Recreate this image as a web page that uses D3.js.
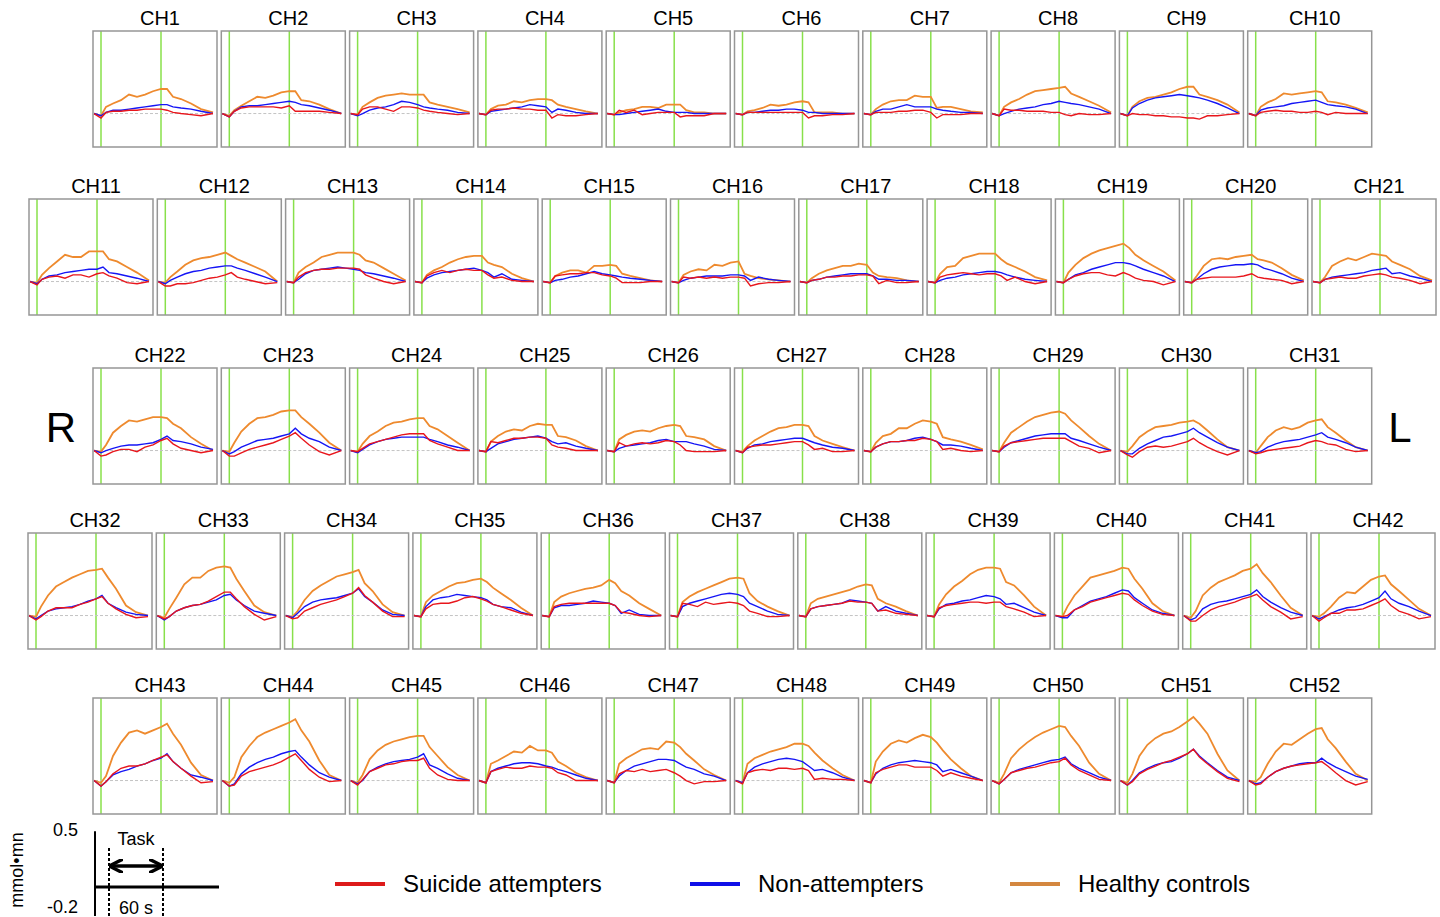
<!DOCTYPE html>
<html>
<head>
<meta charset="utf-8">
<script src="https://cdn.jsdelivr.net/npm/d3@7"></script>
<style>
  body { margin: 0; background: #fff; }
  svg { display: block; font-family: "Liberation Sans", Arial, sans-serif; }
</style>
</head>
<body>
<svg id="chart" width="1440" height="917"></svg>
<script>
// time (s) of each sample, task runs from 0 to 60 s
const timePoints = [-7, 0, 5, 12, 20, 28, 36, 44, 52, 60, 66, 72, 80, 90, 100, 112];
const rowSizes = [10, 11, 10, 11, 10];
const seriesNames = ["Suicide attempters", "Non-attempters", "Healthy controls"];

// oxy-Hb change, in 0.01 mmol·mm, one row per channel (CH1..CH52)
const attempters = [
  [0,-4,1,2,2,3,3,4,4,4,3,1,0,-1,-2,0],
  [0,-3,2,5,6,6,6,6,5,7,2,2,2,2,1,0],
  [0,-1,4,6,6,4,2,6,6,5,3,2,1,0,-1,0],
  [0,-1,3,4,4,5,4,4,3,3,-4,-1,-2,-2,-1,0],
  [0,-1,3,1,3,-1,0,1,1,1,-3,-2,-2,-2,0,0],
  [0,-1,1,1,1,1,1,1,1,1,-4,-2,-2,-1,-1,0],
  [0,-1,1,1,1,2,2,3,3,1,-4,-1,-1,-1,0,0],
  [0,-2,4,3,3,2,2,2,1,1,-1,-2,0,-1,-1,0],
  [0,-2,0,-1,-1,-2,-2,-3,-3,-4,-4,-5,-2,-2,-1,0],
  [0,-2,1,2,3,2,2,1,1,2,1,-1,1,0,0,0],
  [0,-3,2,4,5,3,6,6,4,7,8,5,3,-1,-2,0],
  [0,-4,-4,-2,-2,-1,1,3,4,6,8,4,2,0,-2,-1],
  [0,-1,4,8,10,11,11,12,12,12,11,6,3,0,-2,0],
  [0,-1,5,8,10,8,10,11,10,10,6,3,4,1,0,0],
  [0,-1,5,6,7,7,8,8,6,5,3,-1,-1,-1,0,0],
  [0,-1,4,3,4,3,4,3,4,4,3,-4,-2,-1,-1,0],
  [0,-1,1,2,4,4,5,5,6,6,5,-2,1,-1,-1,0],
  [0,-1,4,6,7,8,7,6,7,7,5,1,4,0,-2,0],
  [0,-1,2,5,7,8,8,6,5,8,6,3,1,0,-3,0],
  [0,-1,2,3,4,4,4,4,5,7,4,3,2,1,-2,0],
  [0,-1,2,3,4,3,3,5,6,7,6,4,3,1,-2,0],
  [0,-5,-4,-1,1,1,-1,3,5,9,11,6,2,0,-2,0],
  [0,-5,-5,-2,1,3,5,7,10,13,16,11,5,-1,-4,0],
  [0,-1,2,6,8,10,12,14,15,15,15,9,6,3,0,0],
  [0,-1,8,7,9,11,11,12,12,11,5,3,2,0,0,0],
  [0,-1,7,4,6,7,6,7,9,8,5,0,-1,-1,-1,0],
  [0,-2,3,4,5,5,6,7,8,8,5,1,2,-1,-1,0],
  [0,-1,3,6,8,8,9,9,11,10,8,1,2,0,-1,0],
  [0,-1,4,7,8,9,10,11,11,11,11,8,4,2,-2,0],
  [0,-4,-6,-1,3,4,3,4,6,8,11,7,3,-1,-4,0],
  [0,-3,-2,0,1,2,3,4,7,9,8,6,5,1,-1,0],
  [0,-4,-1,4,7,7,7,10,12,15,17,11,6,1,-2,-1],
  [0,-3,-1,4,7,9,10,13,17,21,21,15,8,1,-4,-1],
  [0,-3,-2,4,7,10,12,14,17,20,25,18,12,4,-1,-1],
  [0,-1,6,10,11,11,13,16,17,15,13,10,8,5,2,0],
  [0,-1,8,10,11,11,11,11,11,11,9,3,2,0,-1,0],
  [0,-1,11,10,8,12,10,11,12,11,9,4,2,-1,-1,0],
  [0,-1,6,8,9,10,11,13,12,12,11,4,5,2,1,0],
  [0,-1,7,9,10,11,12,12,11,12,12,8,6,3,-1,0],
  [0,-1,0,5,8,12,14,16,18,20,19,14,9,4,1,0],
  [0,-5,-5,0,5,8,10,12,15,17,19,14,8,3,-3,-1],
  [0,-5,-2,2,2,5,5,6,9,12,15,9,4,1,-3,-1],
  [0,-5,-1,6,11,13,13,15,18,21,23,17,11,4,-2,-1],
  [0,-5,-4,4,8,10,12,14,17,21,24,18,10,3,-1,0],
  [0,-4,1,8,11,14,15,17,18,18,20,11,5,1,0,0],
  [0,-2,8,10,12,11,11,13,12,12,11,7,5,0,0,0],
  [0,-2,6,9,8,10,8,9,10,7,4,0,-3,-1,-1,0],
  [0,-3,7,9,10,9,11,11,10,11,9,1,2,1,1,0],
  [0,-2,7,10,12,14,14,12,12,12,9,4,7,4,2,0],
  [0,-3,1,7,9,11,12,14,16,17,20,14,9,5,1,0],
  [0,-4,-1,6,10,13,16,18,21,24,28,21,15,8,2,-1],
  [0,-4,-3,3,8,11,13,14,15,16,17,13,7,0,-4,-1]
];

const nonAttempters = [
  [0,-2,1,3,3,4,5,6,7,8,8,6,5,4,2,0],
  [0,-3,2,6,7,7,8,9,10,11,10,8,7,5,3,0],
  [0,-2,0,3,5,6,8,11,10,8,6,5,4,3,1,0],
  [0,-1,2,3,4,5,6,8,7,6,1,4,3,1,0,0],
  [0,-1,-1,0,1,2,3,4,2,1,1,1,0,0,0,0],
  [0,-1,1,1,2,3,3,4,4,3,1,1,0,0,0,0],
  [0,-1,2,4,4,6,8,6,6,6,4,3,2,1,1,0],
  [0,-2,0,2,4,5,6,8,9,11,10,9,8,6,4,0],
  [0,-2,5,9,12,14,15,16,17,16,15,14,12,9,5,0],
  [0,-2,3,5,6,7,9,10,11,12,10,8,7,6,4,0],
  [0,-2,2,5,6,8,9,10,11,11,13,8,7,5,3,0],
  [0,-2,1,4,7,9,10,12,13,14,14,12,10,7,4,0],
  [0,-1,2,7,10,11,12,13,12,11,10,8,7,5,3,0],
  [0,-1,3,6,8,9,10,11,12,10,8,4,7,2,1,0],
  [0,-1,1,2,4,5,7,9,7,6,5,4,3,2,1,0],
  [0,-1,1,3,4,5,5,5,6,6,5,1,4,2,1,0],
  [0,-1,1,2,4,5,6,7,7,7,5,2,2,1,1,0],
  [0,-1,1,3,4,6,7,8,9,9,8,6,4,2,1,0],
  [0,-1,2,6,8,11,13,15,17,17,16,14,11,8,5,0],
  [0,-1,2,7,11,13,14,15,15,16,15,12,10,7,3,0],
  [0,-1,2,4,5,6,7,8,10,11,12,7,8,5,3,0],
  [0,-2,0,2,4,5,5,6,7,10,13,9,8,6,3,1],
  [0,-3,-1,3,6,9,10,11,13,15,20,15,11,8,3,0],
  [0,-2,1,5,8,10,11,12,12,12,12,10,8,5,3,0],
  [0,-1,2,6,8,10,11,12,13,11,8,6,7,4,2,0],
  [0,-1,2,4,5,6,7,9,10,8,8,8,6,4,1,0],
  [0,-2,2,5,6,8,9,10,11,11,9,7,5,3,2,0],
  [0,-1,3,6,8,8,9,11,12,10,8,5,5,4,2,0],
  [0,-1,3,7,9,11,13,14,15,15,15,11,9,6,3,0],
  [0,-3,-3,2,6,9,12,13,15,17,20,16,12,7,3,0],
  [0,-2,-1,3,6,8,9,10,12,14,16,12,10,7,3,0],
  [0,-3,0,4,6,7,8,10,13,15,18,11,7,3,1,0],
  [0,-4,-1,4,7,9,10,12,14,18,19,14,9,4,2,0],
  [0,-2,2,8,12,14,15,16,18,20,24,17,12,5,1,0],
  [0,-1,8,14,16,17,19,18,17,16,14,10,8,7,3,0],
  [0,-1,7,9,9,10,11,13,12,11,9,2,5,1,0,0],
  [0,-1,8,11,13,15,17,19,20,19,17,11,8,4,1,0],
  [0,-1,6,8,9,10,11,14,13,12,11,4,8,4,2,0],
  [0,-1,6,10,11,13,14,16,18,17,15,10,11,7,3,0],
  [0,-2,-2,5,9,13,15,17,20,23,22,16,11,5,2,0],
  [0,-4,-2,6,10,12,13,15,17,19,23,17,12,7,3,0],
  [0,-3,-1,2,5,7,8,10,13,16,22,15,11,8,4,0],
  [0,-5,-1,5,8,10,13,15,18,20,24,17,11,5,3,0],
  [0,-5,-3,6,12,16,19,21,24,26,27,21,14,7,3,0],
  [0,-3,0,8,12,15,17,18,19,21,24,14,11,6,2,0],
  [0,-2,8,11,13,15,16,16,15,13,12,10,8,5,2,0],
  [0,-2,4,9,13,15,17,19,19,18,15,12,10,6,4,0],
  [0,-2,7,12,15,17,19,20,19,17,13,9,10,7,3,0],
  [0,-2,6,11,14,16,17,18,17,16,14,8,10,7,4,0],
  [0,-3,1,7,10,12,14,16,18,19,21,15,11,7,3,0],
  [0,-4,0,7,11,14,16,17,20,24,28,22,16,9,3,0],
  [0,-3,-2,3,8,11,13,15,16,16,20,16,12,8,4,1]
];

const controls = [
  [0,-2,6,9,12,17,15,17,20,22,22,15,13,9,4,1],
  [0,-2,3,7,11,15,14,16,19,20,20,12,11,8,4,0],
  [0,-1,6,10,14,16,17,18,17,17,17,10,8,6,4,1],
  [0,-1,4,7,8,11,10,12,13,13,12,8,6,4,2,0],
  [0,-1,1,3,4,6,6,5,8,8,8,3,1,1,0,0],
  [0,-1,2,3,5,8,7,8,10,11,10,1,1,1,0,0],
  [0,-1,4,8,11,12,12,16,15,15,5,6,6,4,2,1],
  [0,-2,6,10,13,17,20,21,22,23,24,18,15,11,7,1],
  [0,-2,6,11,14,15,17,19,22,24,24,17,15,12,8,1],
  [0,-2,6,10,13,18,17,18,19,20,19,11,10,8,5,1],
  [0,-1,6,12,18,24,22,22,27,27,27,20,18,13,8,1],
  [0,-1,4,9,15,19,21,22,24,26,23,20,17,13,9,0],
  [0,-1,8,13,17,22,24,26,26,26,24,19,17,12,7,1],
  [0,-1,6,10,13,17,20,22,23,23,17,15,13,7,3,0],
  [0,-1,5,8,10,10,8,14,14,15,14,7,5,3,1,0],
  [0,-1,6,9,11,10,15,14,17,18,7,5,3,2,1,0],
  [0,-1,3,7,10,12,14,14,16,15,8,5,4,3,1,0],
  [0,-1,7,13,14,21,23,25,25,25,20,16,13,9,4,1],
  [0,-1,8,15,21,25,28,30,32,34,30,24,19,14,9,1],
  [0,-1,5,14,20,21,20,22,23,24,20,19,17,12,6,1],
  [0,-1,4,14,18,21,19,22,25,24,23,18,15,11,5,1],
  [0,-1,5,16,22,27,26,28,30,30,29,24,20,12,6,0],
  [0,-1,7,17,24,29,30,32,35,36,36,30,24,16,7,0],
  [0,-1,6,13,17,22,25,26,28,29,29,22,19,13,7,0],
  [0,-1,8,13,17,19,18,22,24,23,23,13,12,9,4,0],
  [0,-1,10,14,17,18,17,20,22,23,22,13,12,10,4,0],
  [0,-1,4,9,13,17,20,21,23,23,22,13,9,6,3,0],
  [0,-1,7,13,15,20,20,24,27,26,24,12,10,8,5,1],
  [0,-1,7,16,21,26,30,32,34,35,33,27,21,13,6,0],
  [0,-1,4,12,17,21,22,23,25,26,27,24,18,10,3,0],
  [0,-2,4,12,18,21,19,21,25,27,28,21,16,9,3,0],
  [0,-1,8,18,26,30,34,37,40,41,42,34,24,9,3,0],
  [0,-2,6,16,28,34,34,40,43,44,43,33,22,9,3,0],
  [0,-1,4,14,22,27,31,35,37,39,41,29,22,10,3,0],
  [0,-1,12,18,22,26,29,30,32,33,30,25,20,14,7,0],
  [0,-1,12,17,20,22,24,25,27,32,29,22,18,11,6,0],
  [0,-1,12,17,21,24,27,30,33,34,33,20,13,8,4,0],
  [0,-1,11,15,17,19,21,23,26,28,27,15,11,8,4,0],
  [0,-1,10,19,26,31,37,41,43,43,42,30,27,18,8,0],
  [0,-1,8,18,26,34,36,38,40,43,42,33,24,11,4,0],
  [0,-2,4,18,25,30,33,36,40,42,46,38,30,18,7,0],
  [0,-1,2,8,16,21,20,26,32,35,36,28,22,14,6,0],
  [0,-2,4,22,34,43,45,42,45,48,51,42,32,16,5,0],
  [0,-2,3,21,31,39,43,46,49,52,55,45,35,18,5,0],
  [0,-2,5,19,27,32,35,37,39,40,40,30,22,12,5,0],
  [0,-2,15,18,22,26,25,31,27,27,25,17,13,7,3,0],
  [0,-2,15,20,24,28,29,28,35,34,30,24,18,10,5,0],
  [0,-2,15,20,23,26,28,30,33,33,31,25,18,11,5,0],
  [0,-2,17,26,33,36,34,38,41,39,34,27,19,11,4,0],
  [0,-2,6,20,28,34,39,43,46,49,48,40,31,16,6,0],
  [0,-2,6,22,32,38,42,44,48,53,57,51,42,24,9,0],
  [0,-1,3,15,26,33,32,37,42,46,47,37,29,17,6,0]
];

const channels = d3.range(1, 53).map(i => "CH" + i);
const lineColors = { attempters: "#e8161c", nonAttempters: "#1515f5", controls: "#ee8a2e" };
const legendColors = ["#dd1a1a", "#1010e8", "#d4873f"];

// layout of the small panels
const panelW = 124, panelH = 116, pitch = 128.3;
const rowLeft = [93, 29, 93, 28, 93];
const rowTop = [31, 199, 368, 533, 698];

const x = d3.scaleLinear().domain([-8, 116]).range([0, panelW]);
const y = d3.scaleLinear().domain([-0.3, 0.74]).range([panelH, 0]);

const line = d3.line()
  .x((d, i) => x(timePoints[i]))
  .y(d => y(d / 100));

const svg = d3.select("#chart");

let ch = 0;
rowSizes.forEach((n, r) => {
  for (let c = 0; c < n; c++) {
    const idx = ch;
    const g = svg.append("g")
      .attr("transform", `translate(${rowLeft[r] + c * pitch},${rowTop[r]})`);

    g.append("text")
      .attr("x", panelW / 2 + 5)
      .attr("y", -6)
      .attr("text-anchor", "middle")
      .attr("font-size", 20)
      .text(channels[idx]);

    // task onset / offset markers
    [0, 60].forEach(t => {
      g.append("line")
        .attr("x1", x(t)).attr("x2", x(t))
        .attr("y1", 0).attr("y2", panelH)
        .attr("stroke", "#88e04a")
        .attr("stroke-width", 1.5);
    });

    g.append("line")
      .attr("x1", 2).attr("x2", panelW - 2)
      .attr("y1", y(0)).attr("y2", y(0))
      .attr("stroke", "#c4c4c4")
      .attr("stroke-width", 1)
      .attr("stroke-dasharray", "3,2");

    g.append("path").datum(controls[idx])
      .attr("d", line).attr("fill", "none")
      .attr("stroke", lineColors.controls).attr("stroke-width", 1.8);
    g.append("path").datum(nonAttempters[idx])
      .attr("d", line).attr("fill", "none")
      .attr("stroke", lineColors.nonAttempters).attr("stroke-width", 1.4);
    g.append("path").datum(attempters[idx])
      .attr("d", line).attr("fill", "none")
      .attr("stroke", lineColors.attempters).attr("stroke-width", 1.4);

    g.append("rect")
      .attr("width", panelW).attr("height", panelH)
      .attr("fill", "none")
      .attr("stroke", "#969696")
      .attr("stroke-width", 1.5);

    ch++;
  }
});

// hemisphere labels
svg.append("text").attr("x", 61).attr("y", 442).attr("text-anchor", "middle")
  .attr("font-size", 42).text("R");
svg.append("text").attr("x", 1400).attr("y", 442).attr("text-anchor", "middle")
  .attr("font-size", 42).text("L");

// scale bar
const sb = svg.append("g").attr("transform", "translate(95,0)");
const ySb = d3.scaleLinear().domain([0, 0.5]).range([887, 887 - 0.5 * (y(0) - y(1))]);
sb.append("line").attr("x1", 0).attr("x2", 0).attr("y1", ySb(0.5)).attr("y2", 916)
  .attr("stroke", "#000").attr("stroke-width", 2);
sb.append("line").attr("x1", 0).attr("x2", panelW).attr("y1", ySb(0)).attr("y2", ySb(0))
  .attr("stroke", "#000").attr("stroke-width", 3);
const taskBar = [6, 60];
taskBar.forEach(t => {
  sb.append("line").attr("x1", x(t)).attr("x2", x(t)).attr("y1", 848).attr("y2", 916)
    .attr("stroke", "#000").attr("stroke-width", 2).attr("stroke-dasharray", "3,2");
});
svg.append("defs").append("marker")
  .attr("id", "ah").attr("viewBox", "0 0 10 10").attr("refX", 8).attr("refY", 5)
  .attr("markerWidth", 4).attr("markerHeight", 4).attr("orient", "auto-start-reverse")
  .append("path").attr("d", "M0,0 L10,5 L0,10").attr("fill", "none")
  .attr("stroke", "#000").attr("stroke-width", 2.5);
sb.append("line").attr("x1", x(taskBar[0]) + 3).attr("x2", x(taskBar[1]) - 3)
  .attr("y1", 866).attr("y2", 866)
  .attr("stroke", "#000").attr("stroke-width", 3.5)
  .attr("marker-start", "url(#ah)").attr("marker-end", "url(#ah)");
sb.append("text").attr("x", (x(taskBar[0]) + x(taskBar[1])) / 2).attr("y", 845)
  .attr("text-anchor", "middle").attr("font-size", 18).text("Task");
sb.append("text").attr("x", (x(taskBar[0]) + x(taskBar[1])) / 2).attr("y", 914)
  .attr("text-anchor", "middle").attr("font-size", 18).text("60 s");
svg.append("text").attr("x", 78).attr("y", 836).attr("text-anchor", "end")
  .attr("font-size", 18).text("0.5");
svg.append("text").attr("x", 78).attr("y", 913).attr("text-anchor", "end")
  .attr("font-size", 18).text("-0.2");
svg.append("text").attr("transform", "translate(23,870) rotate(-90)")
  .attr("text-anchor", "middle").attr("font-size", 18).text("mmol•mn");

// legend
const legendX = [335, 690, 1010];
seriesNames.forEach((name, i) => {
  svg.append("line").attr("x1", legendX[i]).attr("x2", legendX[i] + 50)
    .attr("y1", 884).attr("y2", 884)
    .attr("stroke", legendColors[i]).attr("stroke-width", 4);
  svg.append("text").attr("x", legendX[i] + 68).attr("y", 892)
    .attr("font-size", 24).text(name);
});
</script>
</body>
</html>
